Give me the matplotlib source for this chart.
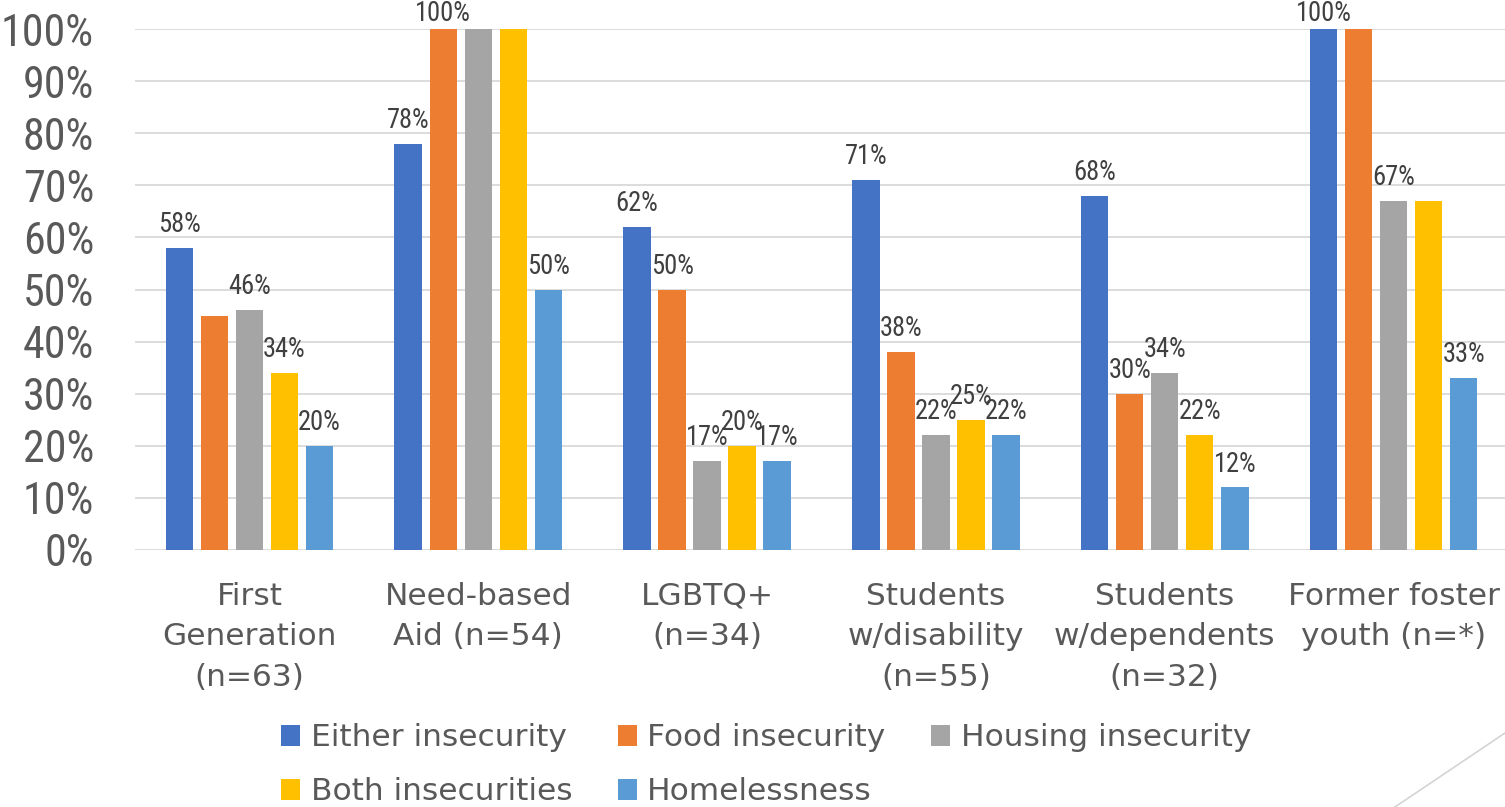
import matplotlib.pyplot as plt
import numpy as np
from matplotlib import font_manager
from matplotlib.lines import Line2D
from matplotlib.ticker import PercentFormatter

groups = [
    "First\nGeneration\n(n=63)",
    "Need-based\nAid (n=54)",
    "LGBTQ+\n(n=34)",
    "Students\nw/disability\n(n=55)",
    "Students\nw/dependents\n(n=32)",
    "Former foster\nyouth (n=*)",
]
series_names = [
    "Either insecurity",
    "Food insecurity",
    "Housing insecurity",
    "Both insecurities",
    "Homelessness",
]
either = [0.58, 0.78, 0.62, 0.71, 0.68, 1.00]
food = [0.45, 1.00, 0.50, 0.38, 0.30, 1.00]
housing = [0.46, 1.00, 0.17, 0.22, 0.34, 0.67]
both = [0.34, 1.00, 0.20, 0.25, 0.22, 0.67]
homeless = [0.20, 0.50, 0.17, 0.22, 0.12, 0.33]

# (series, group) pairs whose value label is not shown
hidden_labels = {(1, 0), (2, 1), (3, 1), (1, 5), (3, 5)}

colors = ["#4472C4", "#ED7D31", "#A5A5A5", "#FFC000", "#5B9BD5"]
text_gray = "#595959"
label_gray = "#404040"

# narrowest sans available for the numbers
installed = {f.name for f in font_manager.fontManager.ttflist}
narrow = next(f for f in ["Liberation Sans Narrow", "Roboto Condensed", "Roboto", "DejaVu Sans"]
              if f in installed)

values = [either, food, housing, both, homeless]
x = np.arange(len(groups))
slot = 0.153
width = 0.12

fig = plt.figure(figsize=(15.05, 8.07), dpi=100)
ax = fig.add_axes([135 / 1505, 1 - 550 / 807, 1373 / 1505, 521 / 807])
renderer = fig.canvas.get_renderer()


def size_for_width(text, target_px, base=30):
    t = fig.text(0, 0, text, fontsize=base, family=narrow)
    w = t.get_window_extent(renderer=renderer).width
    t.remove()
    return base * target_px / w


tick_size = size_for_width("100%", 93)
value_size = size_for_width("58%", 43)

bars = []
for i, (name, vals) in enumerate(zip(series_names, values)):
    b = ax.bar(x + (i - 2) * slot, vals, width, color=colors[i], label=name, zorder=3)
    bars.append(b)
    for j, (rect, v) in enumerate(zip(b, vals)):
        if (i, j) in hidden_labels:
            continue
        # labels at the top edge are pulled down to stay inside the chart area
        offset = 11.5 if v < 0.95 else 6
        ax.annotate(f"{v:.0%}", (rect.get_x() + rect.get_width() / 2, v),
                    xytext=(0, offset), textcoords="offset points",
                    ha="center", va="baseline", fontsize=value_size,
                    color=label_gray, family=narrow, annotation_clip=False)

ax.set_xlim(-0.5, 5.5)
ax.set_ylim(0, 1.0)
ax.set_yticks(np.arange(0, 1.01, 0.1))
ax.yaxis.set_major_formatter(PercentFormatter(1.0, decimals=0))
ax.set_xticks(x, groups)
ax.tick_params(axis="y", length=0, pad=29.5, labelsize=tick_size, labelcolor=text_gray)
ax.tick_params(axis="x", length=0, pad=23, labelsize=22.5, labelcolor=text_gray)
for lbl in ax.get_yticklabels():
    lbl.set_family(narrow)
for lbl in ax.get_xticklabels():
    lbl.set_linespacing(1.5)

ax.grid(axis="y", color="#d9d9d9", linewidth=1.3, zorder=0)
ax.set_axisbelow(True)
for side in ["top", "right", "left", "bottom"]:
    ax.spines[side].set_visible(False)

# legend filled row by row: three entries on the first row, two on the second
order = [0, 3, 1, 4, 2]
leg = fig.legend([bars[k] for k in order], [series_names[k] for k in order],
                 loc="center", bbox_to_anchor=(766 / 1505, 1 - 765 / 807),
                 ncol=3, frameon=False, fontsize=22.5, labelcolor=text_gray,
                 handlelength=0.62, handleheight=0.62, handletextpad=0.33,
                 columnspacing=1.45, labelspacing=0.8, borderpad=0)

# thin slide accent in the lower right corner
fig.add_artist(Line2D([1395 / 1505, 1.0], [0.0, 1 - 733 / 807],
                      transform=fig.transFigure, color="#d4d4d4", linewidth=1.2))

fig.savefig("out.png", dpi=100)
